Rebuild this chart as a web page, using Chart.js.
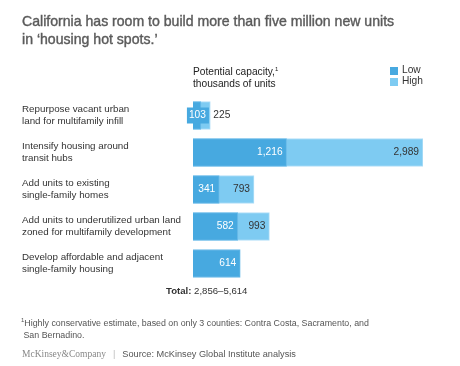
<!DOCTYPE html>
<html>
<head>
<meta charset="utf-8">
<script src="https://cdn.jsdelivr.net/npm/chart.js@4"></script>
<style>
  body { margin: 0; background: #fff; font-family: "Liberation Sans", Arial, sans-serif; }
  .wrap { position: relative; width: 460px; height: 366px; overflow: hidden; }
  #Chart { position: absolute; left: 0; top: 0; }
  .t { position: absolute; white-space: nowrap; }
  .title { left: 22px; top: 13px; font-size: 14.1px; line-height: 17.5px; font-weight: normal; color: #5b5b5b; -webkit-text-stroke: 0.4px #5b5b5b; }
  .head { left: 193px; top: 64px; font-size: 10.2px; line-height: 11.5px; color: #222; }
  .leg { font-size: 10.2px; color: #333; }
  .sq { position: absolute; width: 8px; height: 8px; }
  .total { left: 166px; top: 285px; font-size: 9.6px; color: #333; }
  .note { left: 21px; top: 314px; font-size: 8.85px; line-height: 12px; color: #555; }
  .foot { left: 22px; top: 349px; font-size: 9.2px; color: #555; }
  sup { font-size: 6px; vertical-align: 4px; }
</style>
</head>
<body>
<div class="wrap">
  <canvas id="Chart" width="460" height="366"></canvas>
  <div class="t title">California has room to build more than five million new units<br>in ‘housing hot spots.’</div>
  <div class="t head">Potential capacity,<sup>1</sup><br>thousands of units</div>
  <div class="sq" style="left:390px; top:67px; background:#47a9e0"></div>
  <div class="t leg" style="left:402px; top:64px">Low</div>
  <div class="sq" style="left:390px; top:78px; background:#7ecbf2"></div>
  <div class="t leg" style="left:402px; top:75px">High</div>
  <div class="t total"><b>Total:</b> 2,856–5,614</div>
  <div class="t note"><sup>1</sup>Highly conservative estimate, based on only 3 counties: Contra Costa, Sacramento, and<br>&nbsp;San Bernadino.</div>
  <div class="t foot"><span style="font-family:'Liberation Serif',serif; font-size:9.5px; color:#888">McKinsey&amp;Company</span><span style="color:#bbb; margin:0 7px">|</span>Source: McKinsey Global Institute analysis</div>
</div>
<script>
const categories = [
  ['Repurpose vacant urban', 'land for multifamily infill'],
  ['Intensify housing around', 'transit hubs'],
  ['Add units to existing', 'single-family homes'],
  ['Add units to underutilized urban land', 'zoned for multifamily development'],
  ['Develop affordable and adjacent', 'single-family housing']
];
const low = [103, 1216, 341, 582, 614];
const high = [225, 2989, 793, 993, null];

const lowColor = '#47a9e0';
const highColor = '#7ecbf2';

// category text on the left + value labels on the bars
const labelsPlugin = {
  id: 'labels',
  afterDatasetsDraw(chart) {
    const c = chart.ctx;
    const x = chart.scales.x;
    const y = chart.scales.y;
    c.save();
    c.textBaseline = 'middle';
    categories.forEach((lines, i) => {
      const cy = y.getPixelForValue(i);
      c.font = '9.8px "Liberation Sans", Arial, sans-serif';
      c.fillStyle = '#333';
      c.textAlign = 'left';
      c.fillText(lines[0], 22, cy - 6);
      c.fillText(lines[1], 22, cy + 6);

      c.font = '10.2px "Liberation Sans", Arial, sans-serif';
      const xl = x.getPixelForValue(low[i]);
      const lw = c.measureText(low[i].toLocaleString('en-US')).width;
      const small = xl - x.left < lw + 8;
      if (small) {
        // label too wide for the bar: put it on its own box
        c.fillStyle = lowColor;
        c.fillRect(xl - 14, cy - 8, lw + 5, 16);
      }
      c.fillStyle = '#fff';
      c.textAlign = 'right';
      c.fillText(low[i].toLocaleString('en-US'), small ? xl - 12 + lw : xl - 4, cy);

      if (high[i] != null) {
        const xh = x.getPixelForValue(high[i]);
        const txt = high[i].toLocaleString('en-US');
        const hw = c.measureText(txt).width;
        c.fillStyle = '#333';
        if (xh - xl < hw + 8) {
          c.textAlign = 'left';
          c.fillText(txt, xh + 3, cy);
        } else {
          c.textAlign = 'right';
          c.fillText(txt, xh - 4, cy);
        }
      }
    });
    c.restore();
  }
};

new Chart(document.getElementById('Chart'), {
  type: 'bar',
  data: {
    labels: categories,
    datasets: [{
      label: 'Low',
      data: low,
      backgroundColor: lowColor,
      borderColor: '#6bbbe8',
      borderWidth: 1,
      grouped: false,
      order: 1
    }, {
      label: 'High',
      data: high,
      backgroundColor: highColor,
      borderColor: '#b3e0f8',
      borderWidth: 1,
      grouped: false,
      order: 2
    }]
  },
  options: {
    indexAxis: 'y',
    responsive: false,
    animation: false,
    barThickness: 28,
    layout: { padding: { left: 193, right: 37, top: 97, bottom: 84 } },
    plugins: { legend: { display: false }, tooltip: { enabled: false } },
    scales: {
      x: { display: false, min: 0, max: 2989 },
      y: { display: false }
    }
  },
  plugins: [labelsPlugin]
});
</script>
</body>
</html>
